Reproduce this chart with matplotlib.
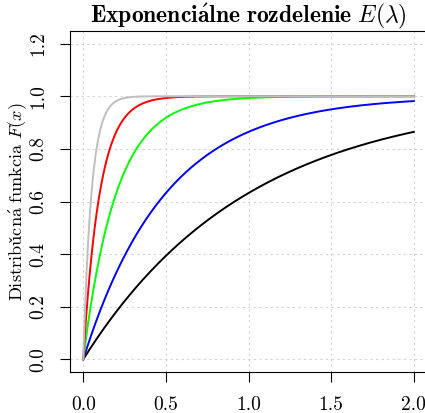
import numpy as np
import matplotlib
matplotlib.use("Agg")
import matplotlib.pyplot as plt

plt.rcParams['font.family'] = ['cmr10', 'DejaVu Serif']
plt.rcParams['mathtext.fontset'] = 'cm'
plt.rcParams['axes.formatter.use_mathtext'] = True

# parametre lambda a farby kriviek
lambdas = [1, 2, 5, 10, 20]
farby = ['black', 'blue', '#00FF00', 'red', '#BEBEBE']
x_ticks = [0.0, 0.5, 1.0, 1.5, 2.0]
y_ticks = [0.0, 0.2, 0.4, 0.6, 0.8, 1.0, 1.2]

x = np.linspace(0, 2, 400)

fig = plt.figure(figsize=(4.25, 4.13), dpi=100)
ax = fig.add_axes([70/425, 41/413, 357/425, 341/413])

for lam, c in zip(lambdas, farby):
    ax.plot(x, 1 - np.exp(-lam*x), color=c, lw=1.4)

ax.set_xlim(-0.08, 2.08)
ax.set_ylim(-0.048, 1.248)
ax.set_xticks(x_ticks)
ax.set_yticks(y_ticks)
ax.set_xticklabels(['%.1f' % v for v in x_ticks], fontsize=14)
ax.set_yticklabels(['%.1f' % v for v in y_ticks], fontsize=14, rotation=90, va='center')
ax.tick_params(direction='out', length=7.5, width=0.8)
ax.tick_params(axis='x', pad=9.5)
ax.tick_params(axis='y', pad=9)
ax.grid(True, color='#d3d3d3', linestyle=(0, (2, 3)), lw=0.8)
for s in ax.spines.values():
    s.set_linewidth(0.8)

ax.set_title(r'$\mathbf{Exponenci\acute{a}lne\ rozdelenie}\ E(\lambda)$', fontsize=17, pad=4)
ax.set_ylabel(r'$\mathrm{Distribu\check{c}n\acute{a}\ funkcia}\ F(x)$', fontsize=13.2, labelpad=0)

fig.savefig('out.png', dpi=100)
